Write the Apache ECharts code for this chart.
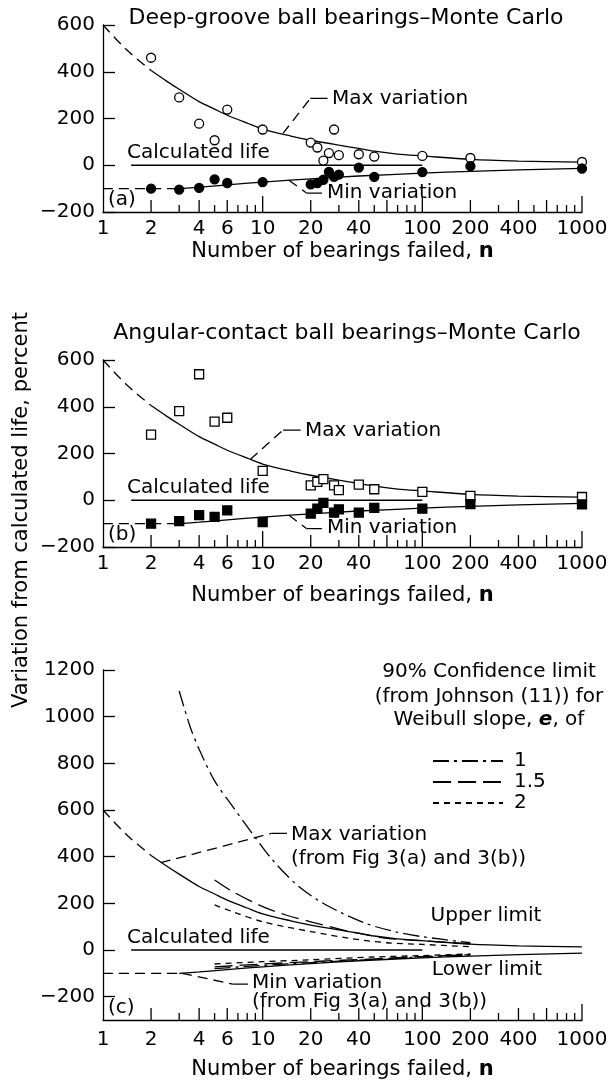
<!DOCTYPE html>
<html>
<head>
<meta charset="utf-8">
<script src="https://cdn.jsdelivr.net/npm/echarts@6/dist/echarts.min.js"></script>
<style>
  html, body { margin: 0; padding: 0; background: #fff; }
  #chart { width: 608px; height: 1082px; }
</style>
</head>
<body>
<div id="chart"></div>
<script>
  const FONT = '"DejaVu Sans", Arial, sans-serif'

  // x axis (number of bearings failed, log scale)
  const xLabelValues = [1, 2, 4, 6, 10, 20, 40, 100, 200, 400, 1000]
  const xTickDecade = [10, 100, 1000]
  const xTickMid = [2, 4, 6, 20, 40, 60, 200, 400, 600]
  const xTickMinor = [3, 5, 7, 8, 9, 30, 50, 70, 80, 90, 300, 500, 700, 800, 900]
  const yTicksC = [-200, 0, 200, 400, 600, 800, 1000, 1200]

  // fitted curves shared by the three panels
  const maxVarDash = [[1, 600], [1.4, 495], [2, 405]]
  const maxVar = [[2, 405], [2.5, 360], [3, 325], [4, 272], [5, 240], [6, 214], [8, 180], [10, 155], [15, 125], [20, 107], [30, 86], [40, 72], [50, 60], [70, 48], [100, 40], [200, 25], [400, 18], [1000, 13]]
  const minVarDash = [[1, -100], [3, -100]]
  const minVar = [[3, -100], [4, -94], [6, -84], [10, -72], [20, -58], [40, -46], [100, -34], [200, -26], [1000, -13]]
  const calcLife = [[1.5, 0], [100, 0]]

  // (a) deep-groove, Monte Carlo points
  const deepOpen = [[2, 460], [3, 290], [4, 178], [5, 107], [6, 238], [10, 153], [20, 97], [22, 76], [24, 20], [26, 52], [28, 153], [30, 43], [40, 47], [50, 37], [100, 40], [200, 31], [1000, 14]]
  const deepFill = [[2, -100], [3, -104], [4, -97], [5, -60], [6, -76], [10, -72], [20, -82], [22, -76], [24, -62], [26, -28], [28, -50], [30, -40], [40, -10], [50, -50], [100, -29], [200, -4], [1000, -14]]

  // (b) angular-contact, Monte Carlo points
  const angOpen = [[2, 281], [3, 381], [4, 539], [5, 336], [6, 353], [10, 126], [20, 64], [22, 79], [24, 90], [28, 64], [30, 43], [40, 67], [50, 47], [100, 36], [200, 19], [1000, 14]]
  const angFill = [[2, -100], [3, -89], [4, -64], [5, -71], [6, -43], [10, -93], [20, -57], [22, -36], [24, -11], [28, -53], [30, -39], [40, -53], [50, -33], [100, -36], [200, -17], [1000, -18]]

  // (c) 90% confidence limits, Weibull slope e = 1, 1.5, 2
  const upper1 = [[3, 1110], [3.5, 960], [4, 860], [5, 725], [6.5, 614], [8.6, 500], [11.4, 390], [16, 285], [22, 215], [31, 160], [46, 110], [68, 78], [100, 57], [200, 31]]
  const upper15 = [[5, 300], [6.5, 250], [10, 186], [14, 150], [20, 121], [35, 79], [60, 50], [100, 40], [200, 26]]
  const upper2 = [[5, 193], [6.5, 164], [10, 121], [20, 79], [35, 50], [60, 31], [100, 24], [200, 14]]
  const lower1 = [[5, -80], [10, -66], [20, -54], [50, -40], [100, -30], [200, -22]]
  const lower15 = [[5, -72], [10, -60], [20, -50], [50, -38], [100, -28], [200, -20]]
  const lower2 = [[5, -60], [10, -50], [20, -42], [50, -30], [100, -24], [200, -17]]

  // leader lines of the annotations
  const leadMaxA = [[[13.4, 136], [19.9, 286]], [[19.9, 286], [25.5, 286]]]
  const leadMinA = [[[14.6, -64], [18.8, -119]], [[18.8, -119], [23.5, -119]]]
  const leadMaxB = [[[8.35, 174], [13.4, 300]], [[13.4, 300], [17.3, 300]]]
  const leadMinB = [[[14.6, -64], [18.8, -121]], [[18.8, -121], [23.5, -121]]]
  const leadMaxC = [[[2.3, 374], [11.35, 500]], [[11.35, 500], [14.2, 500]]]
  const leadMinC = [[[3.13, -100], [6.49, -146]], [[6.49, -146], [8.1, -146]]]

  const DASH = [10, 6]
  const DASHDOT = [16, 5, 3, 5]
  const LONGDASH = [18, 7]
  const SHORTDASH = [6, 5]

  const chart = echarts.init(document.getElementById('chart'))

  function line(p, data, type, name) {
    return {
      type: 'line', name: name, xAxisIndex: p, yAxisIndex: p, data: data,
      symbol: 'none', smooth: 0.3, silent: true, animation: false,
      lineStyle: { color: '#000', width: 1.3, type: type || 'solid' }
    }
  }
  function leader(p, segs) {
    return [line(p, segs[0], DASH), line(p, segs[1], 'solid')]
  }
  function scatter(p, data, symbol, filled) {
    return {
      type: 'scatter', xAxisIndex: p, yAxisIndex: p, data: data, symbol: symbol,
      symbolSize: 9, silent: true, animation: false, z: 5,
      itemStyle: { color: filled ? '#000' : '#fff', borderColor: '#000', borderWidth: 1.3, opacity: 1 }
    }
  }
  // log axis ticks and labels, drawn through the axis scale
  function xTicks(p, yMin, labelGap) {
    const vals = [1].concat(xTickMid, xTickMinor, xTickDecade)
    return {
      type: 'custom', xAxisIndex: p, yAxisIndex: p, silent: true, animation: false, clip: false,
      data: vals.map(v => [v, yMin]),
      renderItem: (params, api) => {
        const v = api.value(0)
        const pt = api.coord([v, api.value(1)])
        const len = v === 1 ? 0 : xTickDecade.includes(v) ? 16 : xTickMid.includes(v) ? 12 : 7
        const children = [{
          type: 'line', shape: { x1: pt[0], y1: pt[1], x2: pt[0], y2: pt[1] - len },
          style: { stroke: '#000', lineWidth: 1.3 }
        }]
        if (xLabelValues.includes(v)) {
          children.push({
            type: 'text', x: pt[0], y: pt[1] + labelGap,
            style: { text: String(v), fontSize: 20, fontFamily: FONT, fill: '#000', textAlign: 'center', align: 'center', textVerticalAlign: 'middle', verticalAlign: 'middle' }
          })
        }
        return { type: 'group', children: children }
      }
    }
  }
  function txt(x, y, text, align, extra) {
    return {
      type: 'text', x: x, y: y, silent: true,
      style: Object.assign({
        text: text, fontSize: 20, fontFamily: FONT, fill: '#000',
        textAlign: align || 'left', align: align || 'left', textVerticalAlign: 'middle', verticalAlign: 'middle'
      }, extra || {})
    }
  }

  const xName = 'Number of bearings failed, {b|n}'
  function xAxis(p, gap) {
    return {
      type: 'log', logBase: 10, min: 1, max: 1000, gridIndex: p,
      axisLine: { onZero: false, lineStyle: { color: '#000', width: 1.3 } },
      axisTick: { show: false }, axisLabel: { show: false }, splitLine: { show: false },
      name: xName, nameLocation: 'middle', nameGap: gap,
      nameTextStyle: { color: '#000', fontSize: 21, fontFamily: FONT, rich: { b: { fontSize: 21, fontFamily: FONT, fontWeight: 'bold', color: '#000' } } }
    }
  }
  function yAxis(p, min, max, custom) {
    const ax = {
      type: 'value', gridIndex: p, min: min, max: max, interval: 200,
      axisLine: { show: true, onZero: false, lineStyle: { color: '#000', width: 1.3 } },
      axisTick: { show: true, inside: true, length: 12, lineStyle: { color: '#000', width: 1.3 } },
      axisLabel: { color: '#000', fontSize: 20, fontFamily: FONT, margin: 8, formatter: v => v < 0 ? '\u2212' + Math.abs(v) : String(v) },
      splitLine: { show: false }
    }
    if (custom) {
      ax.axisTick.customValues = custom
      ax.axisLabel.customValues = custom
    }
    return ax
  }

  const series = []
  // (a)
  series.push(line(0, maxVarDash, DASH), line(0, maxVar), line(0, minVarDash, DASH), line(0, minVar), line(0, calcLife))
  series.push(...leader(0, leadMaxA), ...leader(0, leadMinA))
  series.push(scatter(0, deepOpen, 'circle', false), scatter(0, deepFill, 'circle', true), xTicks(0, -200, 17))
  // (b)
  series.push(line(1, maxVarDash, DASH), line(1, maxVar), line(1, minVarDash, DASH), line(1, minVar), line(1, calcLife))
  series.push(...leader(1, leadMaxB), ...leader(1, leadMinB))
  series.push(scatter(1, angOpen, 'rect', false), scatter(1, angFill, 'rect', true), xTicks(1, -200, 17))
  // (c)
  series.push(line(2, maxVarDash, DASH), line(2, maxVar), line(2, minVarDash, DASH), line(2, minVar), line(2, calcLife))
  series.push(...leader(2, leadMaxC), ...leader(2, leadMinC))
  series.push(line(2, upper1, DASHDOT, '1'), line(2, lower1, DASHDOT, '1'))
  series.push(line(2, upper15, LONGDASH, '1.5'), line(2, lower15, LONGDASH, '1.5'))
  series.push(line(2, upper2, SHORTDASH, '2'), line(2, lower2, SHORTDASH, '2'))
  series.push(xTicks(2, -300, 20))

  const option = {
    backgroundColor: '#fff',
    animation: false,
    grid: [
      { left: 103, right: 26, top: 25, height: 187 },
      { left: 103, right: 26, top: 360, height: 187 },
      { left: 103, right: 26, top: 670, height: 350 }
    ],
    xAxis: [xAxis(0, 29), xAxis(1, 38), xAxis(2, 39)],
    yAxis: [yAxis(0, -200, 600), yAxis(1, -200, 600), yAxis(2, -300, 1200, yTicksC)],
    legend: {
      orient: 'vertical', left: 427, top: 746, itemWidth: 70, itemHeight: 10, itemGap: 1,
      data: ['1', '1.5', '2'], selectedMode: false,
      itemStyle: { opacity: 0 },
      textStyle: { color: '#000', fontSize: 20, fontFamily: FONT, lineHeight: 20, padding: [0, 0, 0, 6] }
    },
    graphic: [
      txt(346, 18, 'Deep-groove ball bearings\u2013Monte Carlo', 'center', { fontSize: 22 }),
      txt(347, 333, 'Angular-contact ball bearings\u2013Monte Carlo', 'center', { fontSize: 22 }),
      txt(127, 153, 'Calculated life'),
      txt(127, 488, 'Calculated life'),
      txt(127, 938, 'Calculated life'),
      txt(332, 99, 'Max variation'),
      txt(327, 193, 'Min variation'),
      txt(305, 431, 'Max variation'),
      txt(327, 528, 'Min variation'),
      txt(108, 200, '(a)'),
      txt(108, 535, '(b)'),
      txt(108, 1008, '(c)'),
      txt(291, 835, 'Max variation'),
      txt(291, 859, '(from Fig 3(a) and 3(b))'),
      txt(252, 983, 'Min variation'),
      txt(252, 1002, '(from Fig 3(a) and 3(b))'),
      txt(486, 916, 'Upper limit', 'center'),
      txt(487, 970, 'Lower limit', 'center'),
      txt(489, 672, '90% Confidence limit', 'center'),
      txt(489, 697, '(from Johnson (11)) for', 'center'),
      txt(489, 720, 'Weibull slope, {e|e}, of', 'center', { rich: { e: { fontSize: 20, fontFamily: FONT, fontWeight: 'bold', fontStyle: 'italic', fill: '#000' } } }),
      Object.assign(txt(22, 510, 'Variation from calculated life, percent', 'center', { fontSize: 21 }), { rotation: Math.PI / 2 })
    ],
    series: series
  }
  chart.setOption(option)
</script>
</body>
</html>
